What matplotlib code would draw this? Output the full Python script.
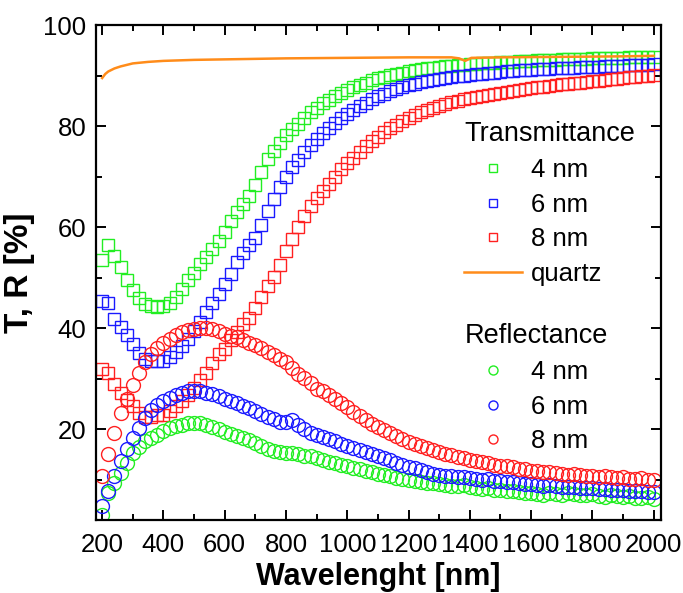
import matplotlib
matplotlib.use("Agg")
import matplotlib.pyplot as plt
import numpy as np
from matplotlib.ticker import MultipleLocator

plt.rcParams['font.family'] = ['Liberation Sans', 'DejaVu Sans']

# wavelength grid of the measured spectra (nm)
wl = np.arange(200, 2001, 20)

# transmittance (%)
t_4nm = [53.4, 56.4, 54.3, 52.0, 49.6, 47.6, 46.0, 44.8, 44.3, 44.2,
         44.4, 45.0, 46.2, 47.8, 49.5, 51.0, 52.6, 54.1, 55.6, 57.2,
         59.0, 61.2, 62.9, 64.5, 66.1, 68.3, 70.9, 73.4, 75.1, 76.6,
         78.2, 79.4, 80.4, 81.6, 82.7, 83.6, 84.5, 85.2, 85.9, 86.6,
         87.2, 87.7, 88.1, 88.6, 89.1, 89.5, 89.8, 90.1, 90.3, 90.5,
         90.8, 91.0, 91.2, 91.4, 91.5, 91.7, 91.8, 91.9, 92.0, 92.1,
         92.2, 92.3, 92.4, 92.5, 92.5, 92.6, 92.7, 92.7, 92.8, 92.9,
         92.9, 93.0, 93.0, 93.1, 93.1, 93.2, 93.2, 93.2, 93.3, 93.3,
         93.4, 93.4, 93.4, 93.5, 93.5, 93.5, 93.6, 93.6, 93.6, 93.7,
         93.7]
t_6nm = [45.3, 45.0, 41.8, 40.3, 38.6, 36.8, 35.0, 33.8, 33.4, 33.4,
         33.5, 34.3, 35.3, 36.4, 37.8, 39.4, 41.2, 43.1, 45.0, 46.8,
         48.7, 50.8, 53.0, 54.9, 56.4, 57.9, 60.4, 63.2, 65.6, 67.9,
         69.9, 71.8, 73.3, 74.8, 76.2, 77.5, 78.6, 79.6, 80.6, 81.5,
         82.3, 83.1, 83.9, 84.6, 85.3, 85.9, 86.4, 86.9, 87.3, 87.7,
         88.1, 88.4, 88.7, 88.9, 89.2, 89.4, 89.6, 89.7, 89.9, 90.0,
         90.1, 90.3, 90.4, 90.5, 90.6, 90.7, 90.8, 90.9, 91.0, 91.0,
         91.1, 91.2, 91.2, 91.3, 91.4, 91.4, 91.5, 91.5, 91.6, 91.6,
         91.7, 91.7, 91.8, 91.8, 91.9, 91.9, 92.0, 92.0, 92.1, 92.1,
         92.2]
t_8nm = [31.9, 31.2, 28.9, 27.1, 25.7, 24.5, 23.2, 22.4, 22.4, 22.7,
         22.7, 23.5, 24.5, 25.6, 26.8, 28.1, 29.8, 31.2, 33.0, 34.8,
         35.8, 37.6, 39.3, 40.8, 42.0, 43.9, 46.2, 48.4, 50.2, 52.4,
         55.2, 57.6, 60.1, 62.2, 64.1, 65.7, 67.2, 68.6, 70.0, 71.4,
         72.7, 73.7, 74.9, 76.0, 77.0, 77.9, 78.8, 79.6, 80.3, 81.0,
         81.6, 82.2, 82.7, 83.2, 83.6, 84.0, 84.4, 84.7, 85.0, 85.3,
         85.5, 85.8, 86.0, 86.2, 86.4, 86.6, 86.8, 87.0, 87.2, 87.4,
         87.5, 87.7, 87.8, 88.0, 88.1, 88.3, 88.4, 88.5, 88.6, 88.8,
         88.9, 89.0, 89.2, 89.3, 89.4, 89.5, 89.7, 89.8, 89.9, 90.0,
         90.1]

# reflectance (%)
r_4nm = [3.0, 7.4, 9.3, 11.3, 13.3, 15.3, 16.4, 17.6, 18.3, 18.9,
         19.6, 20.3, 20.6, 20.9, 21.2, 21.3, 21.2, 20.9, 20.4, 20.0,
         19.5, 19.1, 18.6, 18.2, 17.8, 17.3, 16.7, 16.1, 15.7, 15.4,
         15.3, 15.2, 15.0, 14.7, 14.6, 14.3, 13.9, 13.4, 13.2, 12.9,
         12.6, 12.3, 12.0, 11.7, 11.5, 11.2, 11.0, 10.7, 10.4, 10.2,
         10.0, 9.8, 9.5, 9.3, 9.4, 9.2, 9.0, 8.8, 8.7, 8.9,
         8.6, 8.3, 8.1, 8.4, 8.0, 7.9, 7.7, 7.8, 7.5, 7.3,
         7.4, 7.2, 7.0, 7.3, 7.1, 7.0, 7.4, 7.2, 7.0, 6.9,
         7.1, 6.8, 6.6, 6.9, 6.8, 6.5, 6.7, 6.4, 6.3, 6.5,
         6.2]
r_6nm = [4.8, 7.7, 10.7, 13.6, 16.0, 18.3, 20.3, 22.2, 23.7, 24.8,
         25.6, 26.2, 26.8, 27.2, 27.5, 27.6, 27.5, 27.2, 26.9, 26.5,
         26.0, 25.6, 25.1, 24.6, 24.2, 23.6, 23.0, 22.4, 22.0, 21.5,
         21.4, 21.8, 20.8, 20.1, 19.3, 18.8, 18.4, 18.0, 17.6, 17.1,
         16.6, 16.2, 15.8, 15.4, 15.0, 14.6, 14.2, 13.8, 13.3, 12.9,
         12.5, 12.2, 11.9, 11.6, 11.2, 11.0, 10.8, 10.7, 10.5, 10.6,
         10.4, 10.2, 10.0, 10.1, 9.8, 9.7, 9.5, 9.6, 9.3, 9.2,
         9.1, 9.0, 8.8, 9.0, 8.7, 8.6, 8.5, 8.6, 8.4, 8.3,
         8.3, 8.1, 8.2, 8.0, 7.9, 8.0, 7.8, 7.7, 7.8, 7.6,
         7.6]
r_8nm = [10.7, 15.0, 19.3, 23.1, 25.9, 28.7, 31.2, 33.2, 34.8, 36.0,
         37.0, 37.9, 38.6, 39.2, 39.7, 39.9, 40.0, 40.0, 39.8, 39.5,
         38.9, 38.5, 38.2, 37.7, 37.1, 36.6, 36.0, 35.3, 34.6, 33.9,
         33.2, 32.0, 30.9, 30.1, 29.1, 28.0, 27.5, 26.7, 26.0, 25.1,
         24.3, 23.4, 22.6, 21.8, 21.0, 20.4, 19.8, 19.2, 18.6, 18.1,
         17.4, 17.0, 16.6, 16.2, 15.8, 15.5, 15.1, 14.8, 14.5, 14.2,
         13.9, 13.7, 13.4, 13.2, 12.9, 12.7, 12.6, 12.4, 12.1, 12.0,
         11.8, 11.7, 11.5, 11.6, 11.3, 11.2, 11.0, 11.1, 10.9, 10.8,
         10.8, 10.6, 10.7, 10.5, 10.4, 10.5, 10.2, 10.1, 10.3, 10.0,
         9.9]

# bare quartz substrate
wl_quartz = [200, 210, 220, 240, 260, 280, 300, 350, 400, 500, 600, 700, 800,
             1000, 1200, 1340, 1365, 1385, 1405, 1500, 1700, 1900, 2000]
t_quartz = [89.5, 90.3, 90.8, 91.4, 91.8, 92.1, 92.4, 92.7, 92.9, 93.1, 93.2,
            93.3, 93.4, 93.5, 93.6, 93.6, 93.4, 92.9, 93.5, 93.6, 93.7, 93.8, 93.9]

green, blue, red, orange = '#22ee22', '#1a1aff', '#ff2020', '#ff8c1a'

fig = plt.figure(figsize=(6.83, 5.93), dpi=100)
ax = fig.add_axes([0.1406, 0.1231, 0.8272, 0.8347])

sq = dict(marker='s', ms=9, mfc='none', mew=1.0, ls='none')
ci = dict(marker='o', ms=10, mfc='none', mew=1.0, ls='none')

ht4, = ax.plot(wl, t_4nm, color=green, **sq)
ht6, = ax.plot(wl, t_6nm, color=blue, **sq)
ht8, = ax.plot(wl, t_8nm, color=red, **sq)
hq, = ax.plot(wl_quartz, t_quartz, color=orange, lw=1.8)
hr4, = ax.plot(wl, r_4nm, color=green, **ci)
hr6, = ax.plot(wl, r_6nm, color=blue, **ci)
hr8, = ax.plot(wl, r_8nm, color=red, **ci)

ax.set_xlim(180, 2024)
ax.set_ylim(2, 100)
ax.xaxis.set_major_locator(MultipleLocator(200))
ax.xaxis.set_minor_locator(MultipleLocator(100))
ax.yaxis.set_major_locator(MultipleLocator(20))
ax.yaxis.set_minor_locator(MultipleLocator(10))
ax.set_yticks([20, 40, 60, 80, 100])
ax.tick_params(which='both', direction='in', top=True, right=True, width=1.4)
ax.tick_params(which='major', length=7, labelsize=18.5)
ax.tick_params(axis='x', which='major', pad=9)
ax.tick_params(axis='y', which='major', pad=7)
ax.tick_params(which='minor', length=4)
for s in ax.spines.values():
    s.set_linewidth(1.6)

ax.set_xlabel('Wavelenght [nm]', fontsize=22, fontweight='bold', labelpad=4)
ax.set_ylabel('T, R [%]', fontsize=24, fontweight='bold', labelpad=6)

leg_kw = dict(loc='upper left', frameon=False, fontsize=18.5, title_fontsize=19.5,
              alignment='left', handlelength=2.25, handletextpad=0.35,
              labelspacing=0.42, borderpad=0, borderaxespad=0, markerscale=0.65)
leg1 = ax.legend([ht4, ht6, ht8, hq], ['4 nm', '6 nm', '8 nm', 'quartz'],
                 title='Transmittance', bbox_to_anchor=(0.652, 0.806), **leg_kw)
ax.add_artist(leg1)
ax.legend([hr4, hr6, hr8], ['4 nm', '6 nm', '8 nm'],
          title='Reflectance', bbox_to_anchor=(0.652, 0.398), **leg_kw)

fig.savefig('out.png', dpi=100)
